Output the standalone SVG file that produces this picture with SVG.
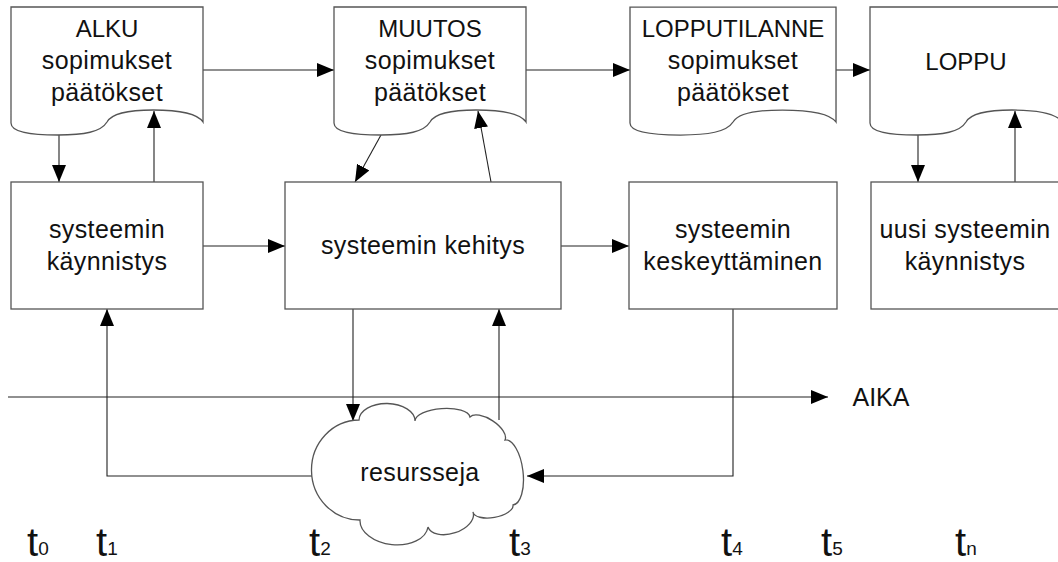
<svg xmlns="http://www.w3.org/2000/svg" width="1058" height="562" viewBox="0 0 1058 562">
<style>
.shape{fill:#fff;stroke:#555;stroke-width:1.3}
.lbl{font-family:"Liberation Sans",Arial,sans-serif;font-size:25px;letter-spacing:0.4px;fill:#111;text-anchor:middle}
.cap{font-size:24px;letter-spacing:0}
.t{font-family:"Liberation Sans",Arial,sans-serif;font-size:40px;fill:#111}
.sub{font-size:19px}
.conn{fill:none;stroke:#222;stroke-width:1.1}
</style>
<defs>
<marker id="arr" markerUnits="userSpaceOnUse" markerWidth="18" markerHeight="14" refX="17" refY="7" orient="auto">
<path d="M0,0 L17,7 L0,14 z" fill="#000"/>
</marker>
<path id="doc" d="M0,0 H192 V115 C186,106 167,103 142,103 C117,103 101,106 96,115 C90,125 73,128 47,128 C19,128 0,125 0,116 Z"/>
</defs>
<rect width="1058" height="562" fill="#fff"/>

<g id="connectors">
<path class="conn" d="M203,70 H334" marker-end="url(#arr)"/>
<path class="conn" d="M526,70 H630" marker-end="url(#arr)"/>
<path class="conn" d="M836,70 H870" marker-end="url(#arr)"/>
<path class="conn" d="M59,135 V182" marker-end="url(#arr)"/>
<path class="conn" d="M154,182 V111" marker-end="url(#arr)"/>
<path class="conn" d="M381,135 L355,182" marker-end="url(#arr)"/>
<path class="conn" d="M491,182 L478,111" marker-end="url(#arr)"/>
<path class="conn" d="M918,135 V182" marker-end="url(#arr)"/>
<path class="conn" d="M1015,182 V111" marker-end="url(#arr)"/>
<path class="conn" d="M203,246 H285" marker-end="url(#arr)"/>
<path class="conn" d="M561,246 H629" marker-end="url(#arr)"/>
<path class="conn" d="M8,397 H828" marker-end="url(#arr)"/>
<path class="conn" d="M312,476 H107 V309" marker-end="url(#arr)"/>
<path class="conn" d="M353,309 V421" marker-end="url(#arr)"/>
<path class="conn" d="M499,420 V309" marker-end="url(#arr)"/>
<path class="conn" d="M733,309 V476 H527" marker-end="url(#arr)"/>
</g>

<g id="alku">
<use href="#doc" class="shape" transform="translate(11,7)"/>
<text class="lbl cap" x="107" y="37">ALKU</text>
<text class="lbl" x="107" y="69">sopimukset</text>
<text class="lbl" x="107" y="101">päätökset</text>
</g>

<g id="muutos">
<use href="#doc" class="shape" transform="translate(334,7)"/>
<text class="lbl cap" x="430" y="37">MUUTOS</text>
<text class="lbl" x="430" y="69">sopimukset</text>
<text class="lbl" x="430" y="101">päätökset</text>
</g>

<g id="lopputilanne">
<use href="#doc" class="shape" transform="translate(630,7) scale(1.073,1)" style="stroke-width:1.25"/>
<text class="lbl cap" x="733" y="37">LOPPUTILANNE</text>
<text class="lbl" x="733" y="69">sopimukset</text>
<text class="lbl" x="733" y="101">päätökset</text>
</g>

<g id="loppu">
<use href="#doc" class="shape" transform="translate(870,7)"/>
<text class="lbl cap" x="966" y="70">LOPPU</text>
</g>

<g id="kaynnistys">
<rect class="shape" x="11" y="182" width="192" height="127"/>
<text class="lbl" x="107" y="238">systeemin</text>
<text class="lbl" x="107" y="270">käynnistys</text>
</g>

<g id="kehitys">
<rect class="shape" x="285" y="182" width="276" height="127"/>
<text class="lbl" x="423" y="254">systeemin kehitys</text>
</g>

<g id="keskeyttaminen">
<rect class="shape" x="629" y="182" width="208" height="127"/>
<text class="lbl" x="733" y="238">systeemin</text>
<text class="lbl" x="733" y="270">keskeyttäminen</text>
</g>

<g id="uusi">
<rect class="shape" x="871" y="182" width="192" height="127"/>
<text class="lbl" x="965" y="238">uusi systeemin</text>
<text class="lbl" x="965" y="270">käynnistys</text>
</g>

<g id="resursseja">
<path class="shape" d="M359,420 A28,17 1 0 1 415,421 A27.6,11 -4 0 1 470,417 A21,10 33 0 1 505,440 A32.7,14 83 0 1 513,505 A20.3,9 170 0 1 473,512 A23.7,14 162 0 1 428,527 A34.2,22 186 0 1 360,520 A50,48 -90.6 0 1 359,420 Z"/>
<text class="lbl" x="420" y="481">resursseja</text>
</g>

<g id="aika">
<text class="lbl cap" x="881" y="406" style="font-size:25px">AIKA</text>
</g>

<g id="times">
<text class="t" x="27" y="556">t<tspan class="sub" dy="-1">0</tspan></text>
<text class="t" x="96" y="556">t<tspan class="sub" dy="-1">1</tspan></text>
<text class="t" x="309" y="556">t<tspan class="sub" dy="-1">2</tspan></text>
<text class="t" x="509" y="556">t<tspan class="sub" dy="-1">3</tspan></text>
<text class="t" x="721" y="556">t<tspan class="sub" dy="-1">4</tspan></text>
<text class="t" x="821" y="556">t<tspan class="sub" dy="-1">5</tspan></text>
<text class="t" x="955" y="556">t<tspan class="sub" dy="-1">n</tspan></text>
</g>
</svg>
